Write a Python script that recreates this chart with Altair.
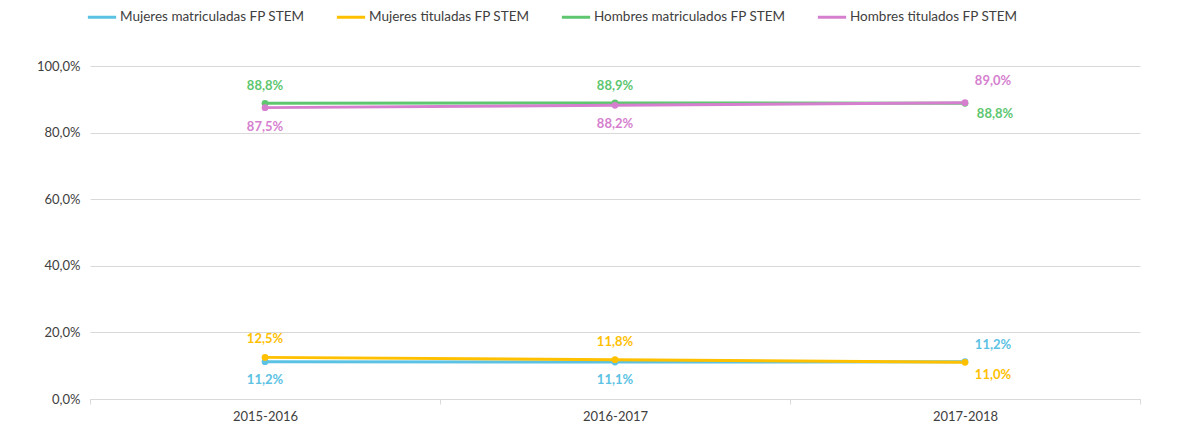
import altair as alt
import pandas as pd
import json

categories = ["2015-2016", "2016-2017", "2017-2018"]
series_names = [
    "Mujeres matriculadas FP STEM",
    "Mujeres tituladas FP STEM",
    "Hombres matriculados FP STEM",
    "Hombres titulados FP STEM",
]
muj_mat = [11.2, 11.1, 11.2]
muj_tit = [12.5, 11.8, 11.0]
hom_mat = [88.8, 88.9, 88.8]
hom_tit = [87.5, 88.2, 89.0]
colors = ["#5BC2E3", "#FFC000", "#5DC66F", "#D67FCF"]
y_ticks = [0, 20, 40, 60, 80, 100]

values = [muj_mat, muj_tit, hom_mat, hom_tit]
rows = []
for name, vals in zip(series_names, values):
    for cat, v in zip(categories, vals):
        rows.append({"serie": name, "periodo": cat, "valor": v,
                     "etiqueta": f"{v:.1f}".replace(".", ",") + "%"})
df = pd.DataFrame(rows)

FONT = "Lato"
GRID = "#D9D9D9"

x_enc = alt.X("periodo:N", sort=categories,
              scale=alt.Scale(type="band", paddingInner=0, paddingOuter=0),
              axis=alt.Axis(title=None, labelAngle=0, tickBand="extent", ticks=True,
                            tickColor=GRID, tickSize=5, domainColor=GRID,
                            labelFont=FONT, labelFontSize=13, labelColor="#404040",
                            labelPadding=6))
y_enc = alt.Y("valor:Q", scale=alt.Scale(domain=[0, 100]),
              axis=alt.Axis(values=y_ticks, title=None, domain=False, ticks=False,
                            gridColor=GRID,
                            labelExpr="replace(format(datum.value, '.1f'), '.', ',') + '%'",
                            labelFont=FONT, labelFontSize=13, labelColor="#404040",
                            labelPadding=10))
color_scale = alt.Scale(domain=series_names, range=colors)

base = alt.Chart(df)

lines = base.mark_line(strokeWidth=3).encode(
    x=x_enc, y=y_enc,
    color=alt.Color("serie:N", scale=color_scale,
                    legend=alt.Legend(orient="none", legendX=-4, legendY=-65,
                                      direction="horizontal", title=None,
                                      symbolType="stroke", symbolStrokeWidth=3,
                                      symbolSize=800, labelFont=FONT,
                                      labelFontSize=13.5, labelColor="#404040",
                                      labelLimit=400,
                                      columnPadding=25, labelOffset=2)),
)
points = base.mark_point(filled=True, size=45, opacity=1).encode(
    x=x_enc, y=y_enc,
    color=alt.Color("serie:N", scale=color_scale, legend=None),
)


def label_layer(serie, cats, dx, dy):
    expr = f"datum.serie == {json.dumps(serie)} && indexof({json.dumps(cats)}, datum.periodo) >= 0"
    return base.transform_filter(expr).mark_text(
        font=FONT, fontSize=13, fontWeight="bold", dx=dx, dy=dy
    ).encode(
        x=x_enc, y=y_enc, text="etiqueta:N",
        color=alt.Color("serie:N", scale=color_scale, legend=None),
    )


first = categories[:2]
last = categories[2:]
labels = [
    label_layer(series_names[2], first, 0, -17),
    label_layer(series_names[3], first, 0, 19),
    label_layer(series_names[1], first, 0, -18),
    label_layer(series_names[0], first, 0, 18),
    label_layer(series_names[3], last, 28, -22),
    label_layer(series_names[2], last, 30, 11),
    label_layer(series_names[0], last, 28, -17),
    label_layer(series_names[1], last, 28, 13),
]

chart = alt.layer(lines, points, *labels).properties(
    width=1050, height=333,
    autosize=alt.AutoSizeParams(type="none"),
    padding={"left": 82, "top": 58, "right": 30, "bottom": 27},
).configure_view(stroke=None)

chart.save("out.html", embed_options={"renderer": "svg", "actions": False})
